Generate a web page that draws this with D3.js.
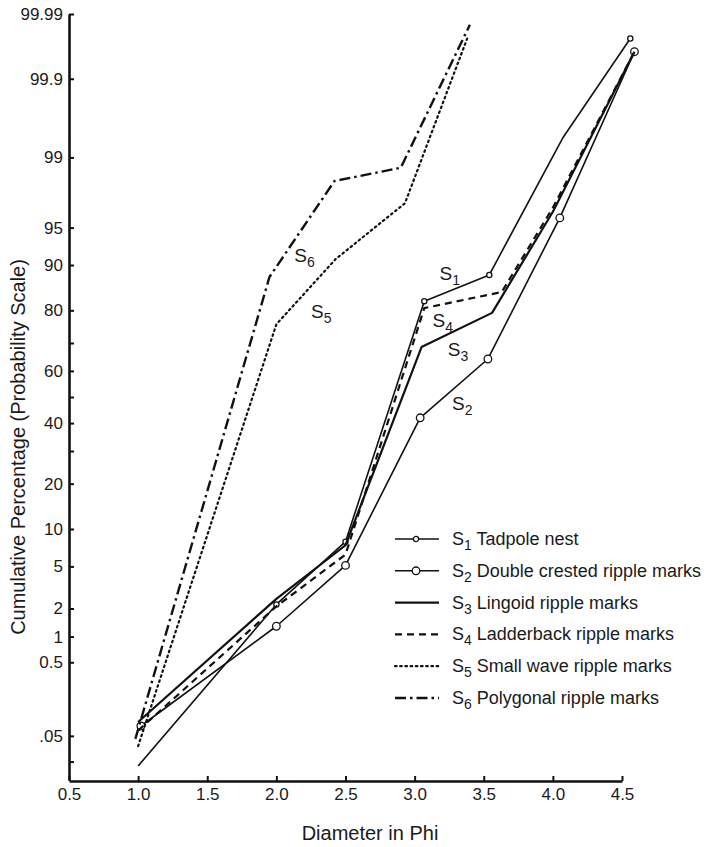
<!DOCTYPE html>
<html>
<head>
<meta charset="utf-8">
<script src="https://cdn.jsdelivr.net/npm/d3@7"></script>
<style>
  body { margin: 0; background: #fff; }
  svg text { font-family: "Liberation Sans", Arial, sans-serif; fill: #1a1a1a; }
</style>
</head>
<body>
<svg width="708" height="847"></svg>
<script>
// x axis (phi) ticks
const xTicks = [0.5, 1.0, 1.5, 2.0, 2.5, 3.0, 3.5, 4.0, 4.5];
// y axis ticks, in percent, with their labels (empty = unlabeled tick)
const yTickValues = [0.02, 0.05, 0.5, 1, 2, 5, 10, 20, 30, 40, 50, 60, 70, 80, 90, 95, 99, 99.9, 99.99];
const yTickLabels = ["", ".05", "0.5", "1", "2", "5", "10", "20", "", "40", "", "60", "", "80", "90", "95", "99", "99.9", "99.99"];

// series values (phi, cumulative %)
const s1Phi = [1.0, 2.0, 2.5, 3.07, 3.54, 4.07, 4.56];
const s1Pct = [0.017, 2.2, 8.0, 82.4, 88.2, 99.4, 99.975];
const s2Phi = [1.02, 2.0, 2.5, 3.04, 3.53, 4.05, 4.59];
const s2Pct = [0.07, 1.3, 5.1, 42, 64.4, 95.9, 99.96];
const s3Phi = [1.0, 2.0, 2.5, 3.05, 3.56, 4.0, 4.59];
const s3Pct = [0.08, 2.5, 7.5, 68.6, 79.3, 96.4, 99.96];
const s4Phi = [1.0, 2.0, 2.5, 3.07, 3.63, 4.0, 4.59];
const s4Pct = [0.06, 2.1, 6.3, 80.6, 84.6, 96.7, 99.96];
const s5Phi = [1.0, 2.0, 2.43, 2.93, 3.38];
const s5Pct = [0.035, 76, 91, 97, 99.975];
const s6Phi = [0.98, 1.95, 2.42, 2.9, 3.4];
const s6Pct = [0.045, 87.8, 98.2, 98.7, 99.985];

const seriesNames = ["Tadpole nest", "Double crested ripple marks", "Lingoid ripple marks",
  "Ladderback ripple marks", "Small wave ripple marks", "Polygonal ripple marks"];
// where the S labels sit on the plot (phi, %)
const labelPhi = [3.18, 3.27, 3.24, 3.13, 2.25, 2.13];
const labelPct = [87.2, 45, 65.5, 75.2, 77.8, 90.5];

// inverse normal CDF (Acklam) for the probability scale
function probit(p) {
  const a = [-39.6968302866538, 220.946098424521, -275.928510446969, 138.357751867269, -30.6647980661472, 2.50662827745924];
  const b = [-54.4760987982241, 161.585836858041, -155.698979859887, 66.8013118877197, -13.2806815528857];
  const c = [-0.00778489400243029, -0.322396458041136, -2.40075827716184, -2.54973253934373, 4.37466414146497, 2.93816398269878];
  const d = [0.00778469570904146, 0.32246712907004, 2.445134137143, 3.75440866190742];
  const lo = 0.02425;
  if (p < lo) {
    const q = Math.sqrt(-2 * Math.log(p));
    return (((((c[0]*q+c[1])*q+c[2])*q+c[3])*q+c[4])*q+c[5]) / ((((d[0]*q+d[1])*q+d[2])*q+d[3])*q+1);
  }
  if (p > 1 - lo) {
    const q = Math.sqrt(-2 * Math.log(1 - p));
    return -(((((c[0]*q+c[1])*q+c[2])*q+c[3])*q+c[4])*q+c[5]) / ((((d[0]*q+d[1])*q+d[2])*q+d[3])*q+1);
  }
  const q = p - 0.5, r = q * q;
  return (((((a[0]*r+a[1])*r+a[2])*r+a[3])*r+a[4])*r+a[5])*q / (((((b[0]*r+b[1])*r+b[2])*r+b[3])*r+b[4])*r+1);
}

const svg = d3.select("svg");

const x = d3.scaleLinear().domain([0.5, 4.5]).range([69, 622]);
const yz = d3.scaleLinear().domain([probit(0.0001), probit(0.9999)]).range([780, 14]);
const y = pct => yz(probit(pct / 100));

// axes
const gx = svg.append("g")
  .attr("transform", "translate(0,781)")
  .call(d3.axisBottom(x).tickValues(xTicks).tickFormat(d3.format(".1f"))
    .tickSizeInner(-5).tickSizeOuter(0).tickPadding(7));
gx.select(".domain").attr("stroke", "#111").attr("stroke-width", 2.4);
gx.selectAll(".tick line").attr("stroke", "#111").attr("stroke-width", 2);
gx.selectAll(".tick text").style("font-size", "17px").attr("fill", "#1a1a1a");

const gy = svg.append("g")
  .attr("transform", "translate(69,0)")
  .call(d3.axisLeft(yz).tickValues(yTickValues.map(p => probit(p / 100)))
    .tickFormat((d, i) => yTickLabels[i]).tickSizeInner(-5).tickSizeOuter(0).tickPadding(6));
gy.select(".domain").attr("stroke", "#111").attr("stroke-width", 2.6);
gy.selectAll(".tick line").attr("stroke", "#111").attr("stroke-width", 2);
gy.selectAll(".tick text").style("font-size", "17px").attr("fill", "#1a1a1a");

// axis titles
svg.append("text")
  .attr("x", 370).attr("y", 840)
  .attr("text-anchor", "middle")
  .style("font-size", "20px")
  .text("Diameter in Phi");

svg.append("text")
  .attr("transform", "translate(25,447) rotate(-90)")
  .attr("text-anchor", "middle")
  .style("font-size", "20px")
  .text("Cumulative Percentage (Probability Scale)");

// series styles; markers = which points get an open circle
const styles = [
  { dash: null, width: 1.6, marker: 2.6, marked: [1, 2, 3, 4, 6] },
  { dash: null, width: 1.6, marker: 3.8, marked: [0, 1, 2, 3, 4, 5, 6] },
  { dash: null, width: 2.2, marker: 0, marked: [] },
  { dash: "7,5", width: 2.2, marker: 0, marked: [] },
  { dash: "1.6,3.6", width: 2.2, marker: 0, marked: [] },
  { dash: "11,4,2.5,4", width: 2.4, marker: 0, marked: [] }
];
const series = [
  d3.zip(s1Phi, s1Pct), d3.zip(s2Phi, s2Pct), d3.zip(s3Phi, s3Pct),
  d3.zip(s4Phi, s4Pct), d3.zip(s5Phi, s5Pct), d3.zip(s6Phi, s6Pct)
];

const line = d3.line().x(d => x(d[0])).y(d => y(d[1]));

series.forEach((pts, i) => {
  const st = styles[i];
  svg.append("path")
    .datum(pts)
    .attr("d", line)
    .attr("fill", "none")
    .attr("stroke", "#111")
    .attr("stroke-width", st.width)
    .attr("stroke-linejoin", "round")
    .attr("stroke-linecap", i === 4 ? "round" : "butt")
    .attr("stroke-dasharray", st.dash);

  if (st.marker) {
    svg.selectAll(null)
      .data(pts.filter((d, j) => st.marked.includes(j)))
      .enter().append("circle")
      .attr("cx", d => x(d[0]))
      .attr("cy", d => y(d[1]))
      .attr("r", st.marker)
      .attr("fill", "#fff")
      .attr("stroke", "#111")
      .attr("stroke-width", 1.3);
  }

  // S label on the plot
  const t = svg.append("text")
    .attr("x", x(labelPhi[i]))
    .attr("y", y(labelPct[i]))
    .style("font-size", "19px")
    .text("S");
  t.append("tspan")
    .attr("dy", 5)
    .style("font-size", "14px")
    .text(i + 1);
});

// legend
const legend = svg.append("g").attr("transform", "translate(395,539)");
series.forEach((pts, i) => {
  const st = styles[i];
  const row = legend.append("g").attr("transform", `translate(0,${i * 31.8})`);
  row.append("line")
    .attr("x1", 0).attr("x2", 44)
    .attr("stroke", "#111")
    .attr("stroke-width", st.width)
    .attr("stroke-linecap", i === 4 ? "round" : "butt")
    .attr("stroke-dasharray", st.dash);
  if (st.marker) {
    row.append("circle")
      .attr("cx", 21).attr("r", st.marker)
      .attr("fill", "#fff").attr("stroke", "#111").attr("stroke-width", 1.3);
  }
  const t = row.append("text")
    .attr("x", 57).attr("y", 6)
    .style("font-size", "18px")
    .text("S");
  t.append("tspan")
    .attr("dy", 5)
    .style("font-size", "14px")
    .text(i + 1);
  t.append("tspan")
    .attr("dy", -5)
    .text(" " + seriesNames[i]);
});
</script>
</body>
</html>
